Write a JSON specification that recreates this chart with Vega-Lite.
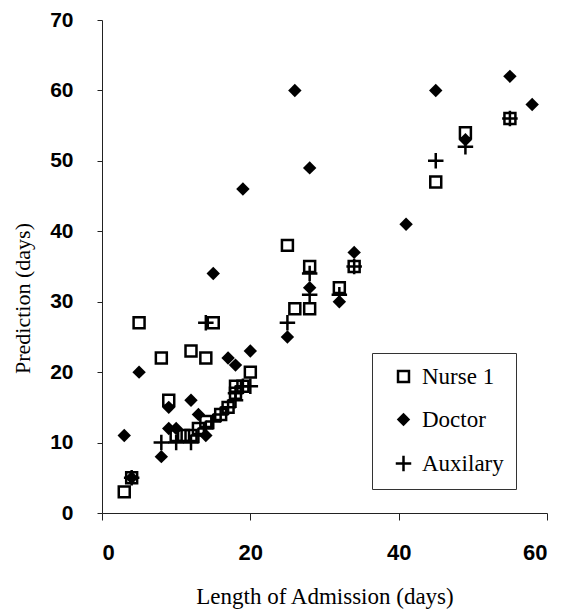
{
  "$schema": "https://vega.github.io/schema/vega-lite/v6.json",
  "width": 445,
  "height": 493,
  "autosize": {"type": "none"},
  "padding": {"left": 102, "top": 20, "right": 18, "bottom": 97},
  "background": "white",
  "config": {
    "view": {"stroke": null},
    "style": {
      "guide-label": {"font": "Liberation Serif", "fontSize": 23, "fill": "black"}
    },
    "axis": {
      "grid": false,
      "domainColor": "#222",
      "domainWidth": 1,
      "tickColor": "#222",
      "tickWidth": 1,
      "labelFont": "Liberation Sans",
      "labelFontWeight": "bold",
      "labelColor": "black",
      "titleFont": "Liberation Serif",
      "titleFontWeight": "normal",
      "titleColor": "black"
    },
    "legend": {
      "labelFont": "Liberation Serif",
      "labelFontSize": 23,
      "labelColor": "black",
      "labelOffset": 7,
      "symbolStrokeWidth": 2.5,
      "symbolOffset": 8,
      "padding": 12,
      "rowPadding": 18,
      "strokeColor": "#333",
      "fillColor": "white"
    }
  },
  "data": {
    "values": [
      {"series": "Nurse 1", "los": 3, "pred": 3},
      {"series": "Nurse 1", "los": 4, "pred": 5},
      {"series": "Nurse 1", "los": 5, "pred": 27},
      {"series": "Nurse 1", "los": 8, "pred": 22},
      {"series": "Nurse 1", "los": 9, "pred": 16},
      {"series": "Nurse 1", "los": 10, "pred": 11},
      {"series": "Nurse 1", "los": 11, "pred": 11},
      {"series": "Nurse 1", "los": 12, "pred": 11},
      {"series": "Nurse 1", "los": 12, "pred": 23},
      {"series": "Nurse 1", "los": 13, "pred": 12},
      {"series": "Nurse 1", "los": 14, "pred": 22},
      {"series": "Nurse 1", "los": 15, "pred": 27},
      {"series": "Nurse 1", "los": 14, "pred": 13},
      {"series": "Nurse 1", "los": 16, "pred": 14},
      {"series": "Nurse 1", "los": 17, "pred": 15},
      {"series": "Nurse 1", "los": 18, "pred": 17},
      {"series": "Nurse 1", "los": 18, "pred": 18},
      {"series": "Nurse 1", "los": 19, "pred": 18},
      {"series": "Nurse 1", "los": 20, "pred": 20},
      {"series": "Nurse 1", "los": 25, "pred": 38},
      {"series": "Nurse 1", "los": 26, "pred": 29},
      {"series": "Nurse 1", "los": 28, "pred": 29},
      {"series": "Nurse 1", "los": 28, "pred": 35},
      {"series": "Nurse 1", "los": 32, "pred": 32},
      {"series": "Nurse 1", "los": 34, "pred": 35},
      {"series": "Nurse 1", "los": 45, "pred": 47},
      {"series": "Nurse 1", "los": 49, "pred": 54},
      {"series": "Nurse 1", "los": 55, "pred": 56},
      {"series": "Doctor", "los": 3, "pred": 11},
      {"series": "Doctor", "los": 4, "pred": 5},
      {"series": "Doctor", "los": 5, "pred": 20},
      {"series": "Doctor", "los": 8, "pred": 8},
      {"series": "Doctor", "los": 9, "pred": 15},
      {"series": "Doctor", "los": 9, "pred": 12},
      {"series": "Doctor", "los": 10, "pred": 12},
      {"series": "Doctor", "los": 12, "pred": 16},
      {"series": "Doctor", "los": 13, "pred": 14},
      {"series": "Doctor", "los": 14, "pred": 11},
      {"series": "Doctor", "los": 15, "pred": 34},
      {"series": "Doctor", "los": 17, "pred": 22},
      {"series": "Doctor", "los": 18, "pred": 21},
      {"series": "Doctor", "los": 20, "pred": 23},
      {"series": "Doctor", "los": 19, "pred": 46},
      {"series": "Doctor", "los": 25, "pred": 25},
      {"series": "Doctor", "los": 26, "pred": 60},
      {"series": "Doctor", "los": 28, "pred": 49},
      {"series": "Doctor", "los": 28, "pred": 32},
      {"series": "Doctor", "los": 32, "pred": 30},
      {"series": "Doctor", "los": 34, "pred": 37},
      {"series": "Doctor", "los": 41, "pred": 41},
      {"series": "Doctor", "los": 45, "pred": 60},
      {"series": "Doctor", "los": 49, "pred": 53},
      {"series": "Doctor", "los": 55, "pred": 62},
      {"series": "Doctor", "los": 58, "pred": 58},
      {"series": "Auxilary", "los": 4, "pred": 5},
      {"series": "Auxilary", "los": 8, "pred": 10},
      {"series": "Auxilary", "los": 10, "pred": 10},
      {"series": "Auxilary", "los": 12, "pred": 10},
      {"series": "Auxilary", "los": 13, "pred": 11},
      {"series": "Auxilary", "los": 14, "pred": 12},
      {"series": "Auxilary", "los": 14, "pred": 27},
      {"series": "Auxilary", "los": 15, "pred": 13},
      {"series": "Auxilary", "los": 16, "pred": 14},
      {"series": "Auxilary", "los": 17, "pred": 15},
      {"series": "Auxilary", "los": 18, "pred": 16},
      {"series": "Auxilary", "los": 18, "pred": 17},
      {"series": "Auxilary", "los": 19, "pred": 18},
      {"series": "Auxilary", "los": 20, "pred": 18},
      {"series": "Auxilary", "los": 25, "pred": 27},
      {"series": "Auxilary", "los": 28, "pred": 34},
      {"series": "Auxilary", "los": 28, "pred": 31},
      {"series": "Auxilary", "los": 32, "pred": 31},
      {"series": "Auxilary", "los": 34, "pred": 35},
      {"series": "Auxilary", "los": 45, "pred": 50},
      {"series": "Auxilary", "los": 49, "pred": 52},
      {"series": "Auxilary", "los": 55, "pred": 56}
    ]
  },
  "mark": {"type": "point", "strokeWidth": 2.5, "opacity": 1},
  "encoding": {
    "x": {
      "field": "los",
      "type": "quantitative",
      "scale": {"domain": [0, 60], "nice": false, "zero": false},
      "axis": {
        "title": "Length of Admission (days)",
        "values": [0, 20, 40, 60],
        "tickSize": 7,
        "labelPadding": 22,
        "labelFont": "Liberation Sans",
        "labelFontWeight": "bold",
        "labelFontSize": 22,
        "titleFontSize": 23,
        "titlePadding": 22
      }
    },
    "y": {
      "field": "pred",
      "type": "quantitative",
      "scale": {"domain": [0, 70], "nice": false, "zero": false},
      "axis": {
        "title": "Prediction (days)",
        "values": [0, 10, 20, 30, 40, 50, 60, 70],
        "tickSize": 5,
        "labelPadding": 24,
        "labelFont": "Liberation Sans",
        "labelFontWeight": "bold",
        "labelFontSize": 21,
        "titleFontSize": 22,
        "titleX": -80,
        "titleY": 278,
        "titleAlign": "center",
        "titleBaseline": "middle",
        "titleAngle": -90
      }
    },
    "shape": {
      "field": "series",
      "type": "nominal",
      "scale": {
        "domain": ["Nurse 1", "Doctor", "Auxilary"],
        "range": ["square", "diamond", "M-1,0L1,0M0,-1L0,1"]
      },
      "legend": {
        "title": null,
        "orient": "none",
        "legendX": 270,
        "legendY": 333,
        "labelFont": "Liberation Serif",
        "labelFontSize": 23
      }
    },
    "size": {
      "field": "series",
      "type": "nominal",
      "scale": {
        "domain": ["Nurse 1", "Doctor", "Auxilary"],
        "range": [120, 240, 700]
      }
    },
    "fill": {
      "field": "series",
      "type": "nominal",
      "scale": {
        "domain": ["Nurse 1", "Doctor", "Auxilary"],
        "range": ["transparent", "black", "transparent"]
      }
    },
    "stroke": {
      "field": "series",
      "type": "nominal",
      "scale": {
        "domain": ["Nurse 1", "Doctor", "Auxilary"],
        "range": ["black", "transparent", "black"]
      }
    }
  }
}
